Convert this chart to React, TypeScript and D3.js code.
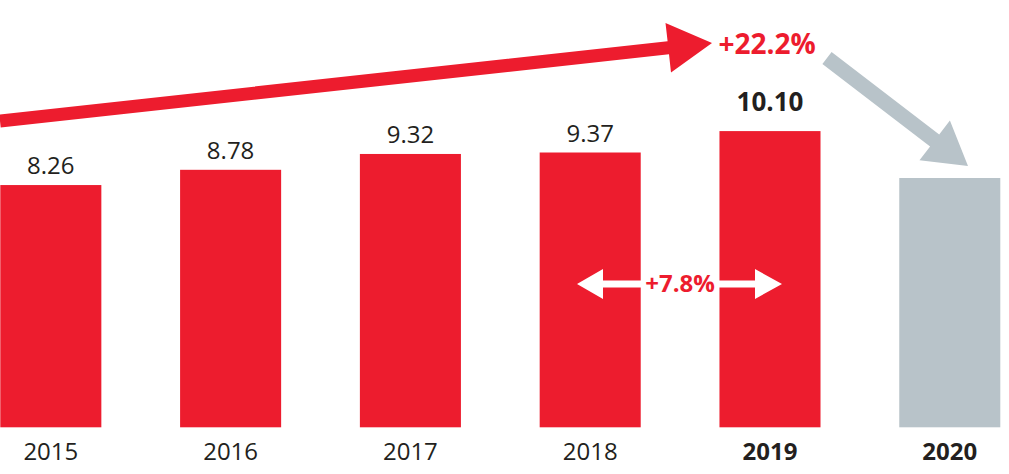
import React from "react";
import * as d3 from "d3";

const years = ["2015", "2016", "2017", "2018", "2019", "2020"];
const values = [8.26, 8.78, 9.32, 9.37, 10.1, 8.5];
const valueLabels = ["8.26", "8.78", "9.32", "9.37", "10.10", ""];
const boldYears = ["2019", "2020"];
const forecastYears = ["2020"];
const growthLabel = "+22.2%";
const yoyLabel = "+7.8%";

const W = 1009;
const H = 474;
const RED = "#ed1c2e";
const GRAY = "#b8c3c9";
const INK = "#231f20";
const FONT = "'Open Sans', 'DejaVu Sans', sans-serif";

function arrowPath(x1: number, y1: number, x2: number, y2: number, shaft: number, headLen: number, headHalf: number) {
  const dx = x2 - x1, dy = y2 - y1;
  const L = Math.hypot(dx, dy);
  const ux = dx / L, uy = dy / L;
  const px = -uy, py = ux;
  const bx = x2 - ux * headLen, by = y2 - uy * headLen;
  const s = shaft / 2;
  const pts = [
    [x1 + px * s, y1 + py * s],
    [bx + px * s, by + py * s],
    [bx + px * headHalf, by + py * headHalf],
    [x2, y2],
    [bx - px * headHalf, by - py * headHalf],
    [bx - px * s, by - py * s],
    [x1 - px * s, y1 - py * s],
  ];
  return "M" + pts.map((p) => p[0].toFixed(1) + "," + p[1].toFixed(1)).join("L") + "Z";
}

export default function App() {
  const x = d3.scaleBand<string>().domain(years).range([0.3, 1000.3]).paddingInner(0.438).paddingOuter(0);
  const y = d3.scaleLinear().domain([0, 14.57]).range([427.3, 0]);
  const bw = x.bandwidth();

  const x2018 = (x("2018") as number) + bw;
  const x2019 = x("2019") as number;
  const midY = 284;
  const gapMid = (x2018 + x2019) / 2;

  return (
    <div style={{ position: "absolute", left: 0, top: 0 }}>
      <svg width={W} height={H} style={{ display: "block" }} fontFamily={FONT}>
        {years.map((yr, i) => {
          const bx = x(yr) as number;
          const isF = forecastYears.includes(yr);
          const bold = boldYears.includes(yr);
          return (
            <g key={yr}>
              <rect x={bx} y={y(values[i])} width={bw} height={y(0) - y(values[i])} fill={isF ? GRAY : RED} />
              {valueLabels[i] && (
                <text
                  x={bx + bw / 2}
                  y={y(values[i]) - (bold ? 20 : 11)}
                  textAnchor="middle"
                  fontSize={bold ? 26 : 24}
                  fontWeight={bold ? 700 : 400}
                  fill={INK}
                >
                  {valueLabels[i]}
                </text>
              )}
              <text
                x={bx + bw / 2}
                y={460}
                textAnchor="middle"
                fontSize={24}
                fontWeight={bold ? 700 : 400}
                fill={INK}
              >
                {yr}
              </text>
            </g>
          );
        })}

        {/* growth arrow 2015 -> 2019 */}
        <path d={arrowPath(0, 121, 712, 43, 13, 44, 25)} fill={RED} />
        <text x={767} y={54} textAnchor="middle" fontSize={28} fontWeight={700} fill={RED}>
          {growthLabel}
        </text>

        {/* decline arrow to 2020 */}
        <path d={arrowPath(827, 58, 968, 166, 15, 42, 25)} fill={GRAY} />

        {/* year-on-year double arrow */}
        <path d={arrowPath(642, midY, 577, midY, 7, 26, 15)} fill="#fff" />
        <path d={arrowPath(715, midY, 782, midY, 7, 27, 15)} fill="#fff" />
        <text x={gapMid} y={midY + 8} textAnchor="middle" fontSize={24} fontWeight={700} fill={RED}>
          {yoyLabel}
        </text>
      </svg>
    </div>
  );
}
